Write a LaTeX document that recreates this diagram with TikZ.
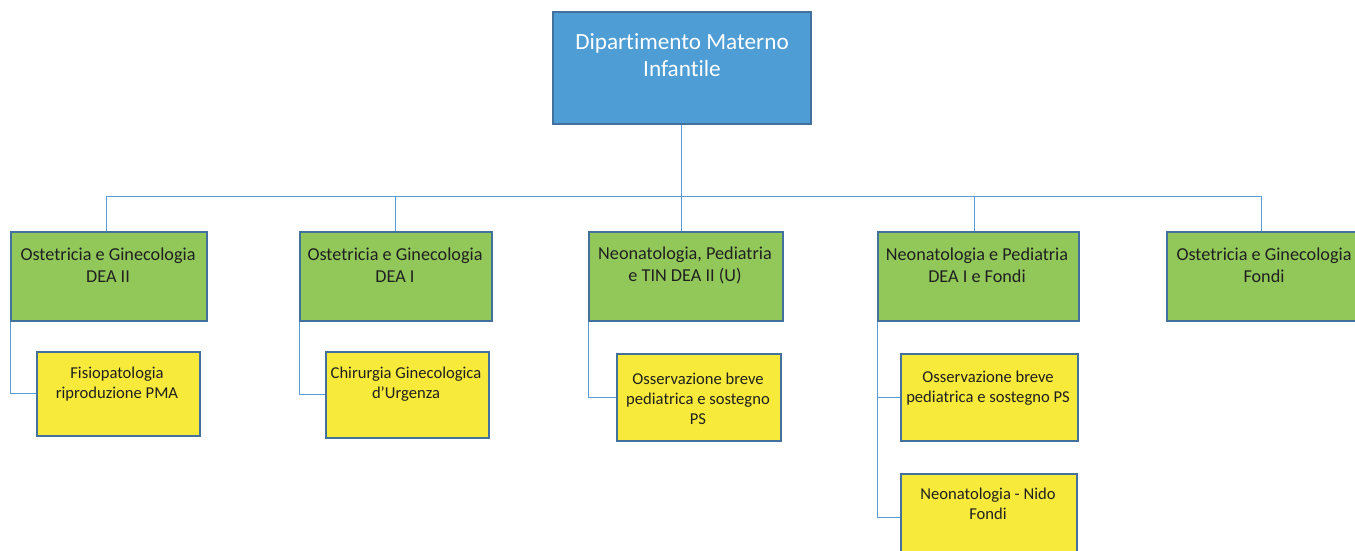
\documentclass[tikz,border=0pt]{standalone}
\usepackage{fontspec}
\setmainfont{Carlito}[Ligatures={NoCommon}]
\definecolor{topfill}{RGB}{79,157,213}
\definecolor{greenfill}{RGB}{146,200,90}
\definecolor{yellowfill}{RGB}{247,234,58}
\definecolor{boxline}{RGB}{65,113,156}
\definecolor{linkline}{RGB}{91,155,213}
\definecolor{ink}{RGB}{32,32,32}
\begin{document}
\begin{tikzpicture}[x=1pt,y=-1pt,
  box/.style={draw=boxline, line width=1.7pt, inner sep=0pt, anchor=north west},
  headbox/.style={box, fill=topfill},
  unitbox/.style={box, fill=greenfill},
  subbox/.style={box, fill=yellowfill},
  headtext/.style={align=center, inner sep=0pt, text=white, font=\fontsize{23.2}{27}\selectfont},
  unittext/.style={align=center, inner sep=0pt, text=ink, font=\fontsize{18.2}{22}\selectfont},
  subtext/.style={align=center, inner sep=0pt, text=ink, font=\fontsize{16.6}{20}\selectfont},
  link/.style={draw=linkline, line width=1pt}]
\useasboundingbox (0,0) rectangle (1355,551);
\clip (0,0) rectangle (1355,551);

% department head
\node[headbox, minimum width=258, minimum height=112] (top) at (552,11) {};
\node[headtext] (toptxt) at (682,55) {Dipartimento Materno\\Infantile};

% units
\node[unitbox, minimum width=196, minimum height=89] (g1) at (10,231) {};
\node[unitbox, minimum width=192, minimum height=89] (g2) at (299,231) {};
\node[unitbox, minimum width=194, minimum height=89] (g3) at (588,231) {};
\node[unitbox, minimum width=201, minimum height=89] (g4) at (877,231) {};
\node[unitbox, minimum width=196, minimum height=89] (g5) at (1166,231) {};

\node[unittext] (g1txt) at (108,265) {Ostetricia e Ginecologia\\DEA II};
\node[unittext] (g2txt) at (395,265) {Ostetricia e Ginecologia\\DEA I};
\node[unittext] (g3txt) at (685,265) {Neonatologia, Pediatria\\e TIN DEA II (U)};
\node[unittext] (g4txt) at (977,265) {Neonatologia e Pediatria\\DEA I e Fondi};
\node[unittext] (g5txt) at (1264,265) {Ostetricia e Ginecologia\\Fondi};

% sub-units
\node[subbox, minimum width=163, minimum height=84] (y1) at (36,351) {};
\node[subbox, minimum width=163, minimum height=86] (y2) at (325,351) {};
\node[subbox, minimum width=164, minimum height=87] (y3) at (616,353) {};
\node[subbox, minimum width=177, minimum height=87] (y4) at (900,353) {};
\node[subbox, minimum width=176, minimum height=87] (y5) at (900,473) {};

\node[subtext] (y1txt) at (117,384) {Fisiopatologia\\riproduzione PMA};
\node[subtext] (y2txt) at (406,384) {Chirurgia Ginecologica\\d’Urgenza};
\node[subtext] (y3txt) at (698,399) {Osservazione breve\\pediatrica e sostegno\\PS};
\node[subtext] (y4txt) at (988,388) {Osservazione breve\\pediatrica e sostegno PS};
\node[subtext] (y5txt) at (988,504) {Neonatologia - Nido\\Fondi};

% connectors
\coordinate (bus) at (0,196);
\draw[link] (top.south) -- (top.south |- g3.north);
\draw[link] ([xshift=-2pt]g1.north) -- ([xshift=-2pt]g1.north |- bus) -- ([xshift=-3pt]g5.north |- bus) -- ([xshift=-3pt]g5.north);
\draw[link] (g2.north |- bus) -- (g2.north);
\draw[link] ([xshift=-4pt]g4.north |- bus) -- ([xshift=-4pt]g4.north);

\draw[link] (g1.south west) |- (y1.west);
\draw[link] (g2.south west) |- (y2.west);
\draw[link] (g3.south west) |- (y3.west);
\draw[link] (g4.south west) |- (y4.west);
\draw[link] (g4.south west) |- (y5.west);
\end{tikzpicture}
\end{document}
